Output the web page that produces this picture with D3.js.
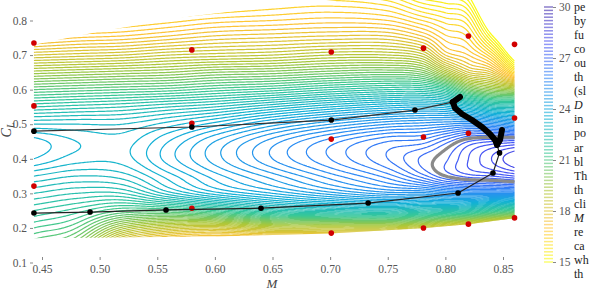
<!DOCTYPE html>
<html>
<head>
<meta charset="utf-8">
<script src="https://cdn.jsdelivr.net/npm/d3@7"></script>
<style>
  body { margin: 0; background: #fff; }
  svg { display: block; font-family: "Liberation Serif", "DejaVu Serif", serif; }
</style>
</head>
<body>
<svg id="chart" width="600" height="296"></svg>
<script>
// L/D values, one row per lift coefficient, one column per Mach number
var machNodes = [0.443, 0.48, 0.52, 0.56, 0.60, 0.65, 0.70, 0.75, 0.78, 0.80, 0.82, 0.84, 0.86];
var clNodes = [0.15, 0.20, 0.25, 0.30, 0.35, 0.40, 0.45, 0.50, 0.55, 0.60, 0.65, 0.70, 0.75, 0.80, 0.85, 0.90];
var ldGrid = [
  [20.6, 20.0, 17.5, 16.5, 16.2, 16.0, 15.8, 15.6, 15.5, 15.5, 15.5, 15.5, 15.5],
  [21.2, 20.8, 19.3, 18.6, 18.4, 18.8, 18.8, 18.8, 18.5, 18.0, 17.5, 17.0, 16.8],
  [21.8, 21.5, 21.0, 21.0, 21.4, 22.1, 22.4, 22.5, 22.3, 22.2, 22.0, 21.5, 21.0],
  [22.4, 22.2, 22.2, 22.9, 23.5, 24.0, 24.5, 24.9, 24.9, 25.1, 25.2, 25.2, 25.2],
  [23.0, 22.8, 22.9, 23.5, 24.1, 24.7, 25.3, 25.9, 26.5, 27.0, 27.3, 27.4, 27.6],
  [23.6, 23.3, 23.3, 23.9, 24.5, 25.2, 25.8, 26.4, 26.85, 27.15, 27.6, 28.0, 28.4],
  [23.7, 23.4, 23.3, 23.8, 24.4, 25.1, 25.7, 26.2, 26.3, 26.7, 27.2, 27.4, 27.5],
  [23.0, 23.0, 23.0, 23.3, 23.7, 24.3, 24.8, 25.2, 25.3, 25.4, 25.5, 25.3, 25.0],
  [22.0, 22.1, 22.2, 22.4, 22.6, 23.0, 23.4, 23.7, 23.8, 23.7, 23.2, 22.6, 22.5],
  [20.8, 20.9, 21.0, 21.1, 21.3, 21.5, 21.8, 22.0, 22.0, 21.6, 20.4, 19.8, 19.5],
  [19.5, 19.6, 19.7, 19.8, 20.0, 20.1, 20.3, 20.4, 20.2, 19.2, 18.2, 17.8, 16.3],
  [18.2, 18.3, 18.4, 18.6, 18.7, 18.8, 19.0, 19.0, 18.7, 17.6, 17.2, 16.4, 14.5],
  [17.0, 17.2, 17.3, 17.5, 17.7, 17.8, 17.9, 17.9, 17.5, 16.9, 16.6, 15.2, 13.5],
  [16.0, 16.3, 16.5, 16.7, 16.9, 17.0, 17.1, 17.0, 16.6, 16.3, 16.0, 14.2, 12.5],
  [15.2, 15.5, 15.8, 16.0, 16.2, 16.4, 16.5, 16.3, 15.8, 15.6, 15.3, 13.3, 11.8],
  [14.5, 14.8, 15.1, 15.3, 15.6, 15.8, 15.9, 15.6, 15.0, 14.8, 14.6, 12.5, 11.0]
];

// edge of the sampled region (M, CL)
var domainEdge = [
  [0.443, 0.73], [0.50, 0.768], [0.58, 0.812], [0.66, 0.845], [0.74, 0.87], [0.86, 0.90],
  [0.86, 0.228], [0.82, 0.211], [0.78, 0.199], [0.70, 0.184], [0.60, 0.175], [0.443, 0.170]
];

// sample points (red)
var sampleM  = [0.443, 0.443, 0.443, 0.580, 0.580, 0.580, 0.701, 0.701, 0.701, 0.781, 0.781, 0.781, 0.820, 0.820, 0.820, 0.860, 0.860, 0.860];
var sampleCL = [0.735, 0.553, 0.321, 0.715, 0.503, 0.257, 0.709, 0.457, 0.185, 0.720, 0.463, 0.200, 0.755, 0.474, 0.211, 0.731, 0.518, 0.229];

// upper and lower paths (black)
var upperM  = [0.443, 0.580, 0.701, 0.7736, 0.806];
var upperCL = [0.480, 0.492, 0.512, 0.541, 0.564];
var lowerM  = [0.443, 0.4917, 0.5576, 0.640, 0.733, 0.811, 0.8413, 0.847, 0.8448];
var lowerCL = [0.243, 0.246, 0.252, 0.257, 0.272, 0.301, 0.359, 0.417, 0.440];
var trailM  = [0.8127, 0.8066, 0.8083, 0.8144, 0.8231, 0.8318, 0.8387, 0.8431, 0.8448, 0.8474, 0.8491];
var trailCL = [0.5787, 0.5642, 0.5469, 0.5295, 0.5122, 0.4920, 0.4717, 0.4543, 0.4399, 0.4543, 0.4833];

var mTicks = [0.45, 0.50, 0.55, 0.60, 0.65, 0.70, 0.75, 0.80, 0.85];
var clTicks = [0.1, 0.2, 0.3, 0.4, 0.5, 0.6, 0.7, 0.8];
var cbTicks = [15, 18, 21, 24, 27, 30];
var ldMin = 15, ldMax = 30, levelStep = 0.2, highlightLevel = 27;

// what shows of the neighbouring paragraph
var sideText = ["pe", "by", "fu", "co", "ou", "th", "(sl", "D", "in", "po", "ar", "bl", "Th", "th",
  "cli", "M", "re", "ca", "wh", "th"];

var parula = ["#3e26a8", "#4852f4", "#2e87f7", "#12b1d6", "#37c897", "#abc739", "#fec338", "#f9fb15"];

var svg = d3.select("#chart");

var x = d3.scaleLinear().domain([0.45, 0.85]).range([42, 503]);
var y = d3.scaleLinear().domain([0.1, 0.8]).range([262.5, 20.5]);
var color = d3.scaleLinear()
  .domain(parula.map(function(d, i) { return ldMax - i * (ldMax - ldMin) / (parula.length - 1); }))
  .range(parula);

// piecewise cubic hermite through the read values
var interp1 = function(xs, ys, v) {
  var n = xs.length;
  if (v <= xs[0]) return ys[0];
  if (v >= xs[n - 1]) return ys[n - 1];
  var i = 0;
  while (xs[i + 1] < v) i++;
  var h = xs[i + 1] - xs[i], t = (v - xs[i]) / h;
  var slope = function(k) {
    if (k == 0) return (ys[1] - ys[0]) / (xs[1] - xs[0]);
    if (k == n - 1) return (ys[n - 1] - ys[n - 2]) / (xs[n - 1] - xs[n - 2]);
    return (ys[k + 1] - ys[k - 1]) / (xs[k + 1] - xs[k - 1]);
  };
  var t2 = t * t, t3 = t2 * t;
  return (2 * t3 - 3 * t2 + 1) * ys[i] + (t3 - 2 * t2 + t) * h * slope(i)
       + (-2 * t3 + 3 * t2) * ys[i + 1] + (t3 - t2) * h * slope(i + 1);
};

var step = 1.5, gx0 = 18, gy0 = -4;
var nx = Math.ceil((532 - gx0) / step), ny = Math.ceil((272 - gy0) / step);
var field = new Array(nx * ny);
for (var i = 0; i < nx; i++) {
  var m = x.invert(gx0 + (i + 0.5) * step);
  var col = ldGrid.map(function(row) { return interp1(machNodes, row, m); });
  for (var j = 0; j < ny; j++) {
    var cl = y.invert(gy0 + (j + 0.5) * step);
    field[j * nx + i] = interp1(clNodes, col, cl);
  }
}

var levels = d3.range(0, Math.round((ldMax - ldMin) / levelStep) + 1).map(function(k) { return ldMin + k * levelStep; });

var gridPath = d3.geoPath(d3.geoTransform({
  point: function(px, py) { this.stream.point(gx0 + px * step, gy0 + py * step); }
}));

svg.append("clipPath").attr("id", "region")
  .append("path")
  .attr("d", d3.line()(domainEdge.map(function(d) { return [x(d[0]), y(d[1])]; })) + "Z");

var plot = svg.append("g").attr("clip-path", "url(#region)");

plot.selectAll("path.iso")
  .data(d3.contours().size([nx, ny]).thresholds(levels)(field))
  .enter()
  .append("path")
  .attr("class", "iso")
  .attr("d", gridPath)
  .attr("fill", "none")
  .attr("stroke", function(d) { return color(d.value); })
  .attr("stroke-width", 1.2);

plot.selectAll("path.ring")
  .data(d3.contours().size([nx, ny]).thresholds([highlightLevel])(field))
  .enter()
  .append("path")
  .attr("class", "ring")
  .attr("d", gridPath)
  .attr("fill", "none")
  .attr("stroke", "#8a8a8a")
  .attr("stroke-width", 3.2);

// sample points
svg.selectAll("circle.sample")
  .data(d3.range(sampleM.length))
  .enter()
  .append("circle")
  .attr("class", "sample")
  .attr("cx", function(k) { return x(sampleM[k]); })
  .attr("cy", function(k) { return y(sampleCL[k]); })
  .attr("r", 2.8)
  .attr("fill", "#d10000");

var pathLine = d3.line()
  .x(function(k) { return x(k[0]); })
  .y(function(k) { return y(k[1]); });

var drawPath = function(ms, cls, stroke, width, dots) {
  var pts = ms.map(function(d, k) { return [d, cls[k]]; });
  svg.append("path")
    .attr("d", pathLine(pts))
    .attr("fill", "none")
    .attr("stroke", stroke)
    .attr("stroke-width", width)
    .attr("stroke-linejoin", "round")
    .attr("stroke-linecap", "round");
  if (dots) {
    svg.append("g").selectAll("circle")
      .data(pts)
      .enter()
      .append("circle")
      .attr("cx", function(d) { return x(d[0]); })
      .attr("cy", function(d) { return y(d[1]); })
      .attr("r", 2.8)
      .attr("fill", "#000");
  }
};

drawPath(upperM, upperCL, "#333", 1.2, true);
drawPath(lowerM, lowerCL, "#222", 1.2, true);
drawPath(trailM, trailCL, "#000", 6, false);

// axes
var tickColor = "#555";
var xAxis = svg.append("g")
  .attr("transform", "translate(0,257)")
  .call(d3.axisBottom(x).tickValues(mTicks).tickFormat(d3.format(".2f")).tickSize(3).tickPadding(5));
var yAxis = svg.append("g")
  .attr("transform", "translate(33,0)")
  .call(d3.axisLeft(y).tickValues(clTicks).tickFormat(d3.format(".1f")).tickSize(3).tickPadding(3));

[xAxis, yAxis].forEach(function(a) {
  a.select(".domain").remove();
  a.selectAll("line").attr("stroke", tickColor).attr("stroke-width", 0.7);
  a.selectAll("text")
    .attr("fill", tickColor)
    .style("font-family", "\"Liberation Serif\", serif")
    .style("font-size", "11.5px");
});

svg.append("text")
  .attr("x", 272)
  .attr("y", 288)
  .attr("text-anchor", "middle")
  .attr("fill", "#444")
  .style("font-style", "italic")
  .style("font-size", "13px")
  .text("M");

var yLabel = svg.append("text")
  .attr("transform", "translate(11,130) rotate(-90)")
  .attr("text-anchor", "middle")
  .attr("fill", "#444")
  .style("font-style", "italic")
  .style("font-size", "14px");
yLabel.append("tspan").text("C");
yLabel.append("tspan").attr("dy", 3).style("font-size", "10px").text("L");

// colour bar
var cb = d3.scaleLinear().domain([ldMin, ldMax]).range([262, 7]);
svg.append("g").selectAll("line")
  .data(levels)
  .enter()
  .append("line")
  .attr("x1", 544)
  .attr("x2", 553)
  .attr("y1", function(d) { return cb(d); })
  .attr("y2", function(d) { return cb(d); })
  .attr("stroke", function(d) { return color(d); })
  .attr("stroke-opacity", 0.6)
  .attr("stroke-width", 1.5);

var cbAxis = svg.append("g")
  .attr("transform", "translate(553,0)")
  .call(d3.axisRight(cb).tickValues(cbTicks).tickSize(3).tickPadding(3));
cbAxis.select(".domain").remove();
cbAxis.selectAll("line").attr("stroke", tickColor).attr("stroke-width", 0.7);
cbAxis.selectAll("text")
  .attr("fill", tickColor)
  .style("font-family", "\"Liberation Serif\", serif")
  .style("font-size", "11.5px");

// neighbouring paragraph, cut by the page edge
svg.append("g").selectAll("text")
  .data(sideText)
  .enter()
  .append("text")
  .attr("x", 574)
  .attr("y", function(d, k) { return 10.5 + k * 14.1; })
  .attr("fill", "#222")
  .style("font-size", "12px")
  .style("font-style", function(d) { return (d == "D" || d == "M") ? "italic" : "normal"; })
  .text(function(d) { return d; });
</script>
</body>
</html>
